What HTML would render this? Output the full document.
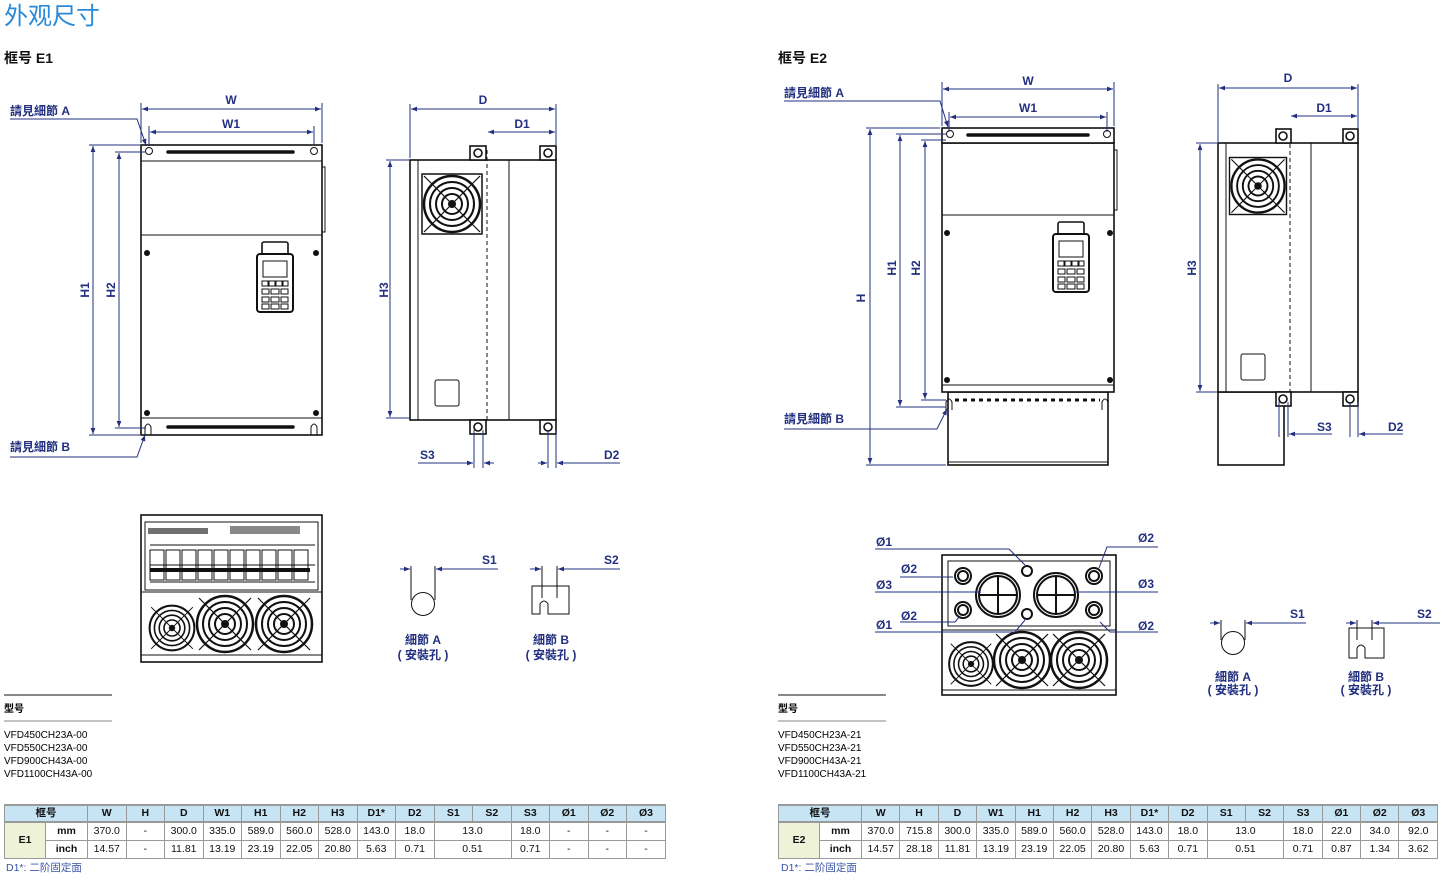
<!DOCTYPE html>
<html><head><meta charset="utf-8"><style>
body{margin:0;background:#fff;width:1447px;height:883px;overflow:hidden;font-family:"Liberation Sans","Noto Sans CJK TC",sans-serif}
svg{position:absolute;left:0;top:0}
.b{fill:#22307f;font-weight:bold;font-size:12px;font-family:"Liberation Sans","Noto Sans CJK TC",sans-serif}
.k{fill:#000;font-size:10px;font-family:"Liberation Sans","Noto Sans CJK TC",sans-serif}
.d{stroke:#22307f;stroke-width:1;fill:none}
.o{stroke:#111;stroke-width:1.6;fill:#fff}
.t{stroke:#111;stroke-width:1;fill:none}
</style></head><body>
<svg width="1447" height="883" viewBox="0 0 1447 883">
<defs>
<marker id="a" viewBox="0 0 10 10" refX="10" refY="5" markerWidth="8" markerHeight="6" orient="auto-start-reverse"><path d="M0,1 L10,5 L0,9z" fill="#22307f"/></marker>
<g id="fan">
<rect x="-30" y="-30" width="60" height="60" fill="#fff" stroke="#111" stroke-width="1.5"/>
<circle r="28" fill="none" stroke="#111" stroke-width="2.5"/><circle r="22" fill="none" stroke="#111" stroke-width="2"/><circle r="16" fill="none" stroke="#111" stroke-width="2"/><circle r="10" fill="none" stroke="#111" stroke-width="2"/><circle r="4" fill="#111"/>
<path d="M-28,-28L28,28M28,-28L-28,28" stroke="#111" stroke-width="1.2"/>
</g>
<g id="fn">
<circle r="28" fill="none" stroke="#111" stroke-width="2.5"/><circle r="22" fill="none" stroke="#111" stroke-width="2"/><circle r="16" fill="none" stroke="#111" stroke-width="2"/><circle r="10" fill="none" stroke="#111" stroke-width="2"/><circle r="4" fill="#111"/>
<path d="M-26,-26L26,26M26,-26L-26,26" stroke="#111" stroke-width="1.2"/>
</g>
<g id="kp">
<rect x="5" y="0" width="26" height="14" rx="2" class="o"/>
<rect x="0" y="12" width="36" height="58" rx="3" fill="#fff" stroke="#111" stroke-width="2"/>
<rect x="6" y="19" width="24" height="16" fill="none" stroke="#111"/>
<g fill="none" stroke="#111"><rect x="5" y="39" width="6" height="5"/><rect x="12" y="39" width="6" height="5"/><rect x="19" y="39" width="6" height="5"/><rect x="26" y="39" width="5" height="5"/>
<rect x="5" y="47" width="7" height="5"/><rect x="14" y="47" width="8" height="5"/><rect x="24" y="47" width="7" height="5"/>
<rect x="5" y="55" width="7" height="5"/><rect x="14" y="55" width="8" height="5"/><rect x="24" y="55" width="7" height="5"/>
<rect x="5" y="62" width="7" height="5"/><rect x="14" y="62" width="8" height="5"/><rect x="24" y="62" width="7" height="5"/></g>
</g>
</defs>

<text x="4" y="24" font-size="24" fill="#2a8ad8" font-family="Liberation Sans,Noto Sans CJK TC,sans-serif">外观尺寸</text>
<text x="4" y="63" font-size="14" font-weight="bold" fill="#111" font-family="Liberation Sans,Noto Sans CJK TC,sans-serif">框号 E1</text>
<text x="778" y="63" font-size="14" font-weight="bold" fill="#111" font-family="Liberation Sans,Noto Sans CJK TC,sans-serif">框号 E2</text>

<!-- E1 front -->
<rect x="141" y="145" width="181" height="290" class="o"/>
<line x1="141" y1="161" x2="322" y2="161" class="t" stroke-width="1.5"/>
<line x1="141" y1="235" x2="322" y2="235" class="t" stroke-width="1.5"/>
<line x1="141" y1="418" x2="322" y2="418" class="t" stroke-width="1.5"/>
<line x1="168" y1="152" x2="293" y2="152" stroke="#111" stroke-width="3.5" stroke-linecap="round"/>
<line x1="168" y1="427" x2="293" y2="427" stroke="#111" stroke-width="3.5" stroke-linecap="round"/>
<circle cx="149" cy="151" r="3.5" fill="#fff" stroke="#111"/><circle cx="314" cy="151" r="3.5" fill="#fff" stroke="#111"/>
<rect x="322" y="167" width="3" height="65" fill="none" stroke="#111"/>
<g fill="#111"><circle cx="147" cy="253" r="3"/><circle cx="316" cy="253" r="3"/><circle cx="147" cy="413" r="3"/><circle cx="316" cy="413" r="3"/></g>
<use href="#kp" x="257" y="242"/>
<path d="M145,435v-8q3,-6 6,0v8M311,435v-8q3,-6 6,0v8" class="t"/>
<line x1="141" y1="103" x2="141" y2="143" class="d"/><line x1="322" y1="103" x2="322" y2="143" class="d"/>
<line x1="142" y1="109" x2="321" y2="109" class="d" marker-start="url(#a)" marker-end="url(#a)"/>
<text x="231" y="104" class="b" text-anchor="middle">W</text>
<line x1="149" y1="126" x2="149" y2="146" class="d"/><line x1="314" y1="126" x2="314" y2="146" class="d"/>
<line x1="150" y1="132" x2="313" y2="132" class="d" marker-start="url(#a)" marker-end="url(#a)"/>
<text x="231" y="128" class="b" text-anchor="middle">W1</text>
<line x1="89" y1="145" x2="140" y2="145" class="d"/><line x1="89" y1="435" x2="140" y2="435" class="d"/>
<line x1="93" y1="146" x2="93" y2="434" class="d" marker-start="url(#a)" marker-end="url(#a)"/>
<line x1="115" y1="152" x2="146" y2="152" class="d"/><line x1="115" y1="428" x2="146" y2="428" class="d"/>
<line x1="119" y1="153" x2="119" y2="427" class="d" marker-start="url(#a)" marker-end="url(#a)"/>
<text transform="translate(89,290) rotate(-90)" class="b" text-anchor="middle">H1</text>
<text transform="translate(115,290) rotate(-90)" class="b" text-anchor="middle">H2</text>
<text x="10" y="115" class="b">請見細節 A</text>
<polyline points="10,119 137,119 146,145" class="d" marker-end="url(#a)"/>
<text x="10" y="451" class="b">請見細節 B</text>
<polyline points="10,457 137,457 145,435" class="d" marker-end="url(#a)"/>

<!-- E1 side -->
<rect x="410" y="160" width="146" height="260" class="o"/>
<line x1="418" y1="160" x2="418" y2="420" class="t"/>
<line x1="509" y1="160" x2="509" y2="420" class="t" stroke-width="1.5"/>
<line x1="487" y1="150" x2="487" y2="420" stroke="#111" stroke-dasharray="4,3"/>
<use href="#fan" x="452" y="204"/>
<rect x="435" y="380" width="24" height="26" rx="2" class="t"/>
<rect x="470" y="146" width="16" height="14" class="o"/><circle cx="478" cy="153" r="4" class="o" stroke-width="1"/>
<rect x="540" y="146" width="16" height="14" class="o"/><circle cx="548" cy="153" r="4" class="o" stroke-width="1"/>
<rect x="470" y="420" width="16" height="14" class="o"/><circle cx="478" cy="427" r="4" class="o" stroke-width="1"/>
<rect x="540" y="420" width="16" height="14" class="o"/><circle cx="548" cy="427" r="4" class="o" stroke-width="1"/>
<line x1="410" y1="104" x2="410" y2="158" class="d"/><line x1="556" y1="104" x2="556" y2="145" class="d"/>
<line x1="411" y1="109" x2="555" y2="109" class="d" marker-start="url(#a)" marker-end="url(#a)"/>
<text x="483" y="104" class="b" text-anchor="middle">D</text>
<line x1="488" y1="132" x2="555" y2="132" class="d" marker-start="url(#a)" marker-end="url(#a)"/>
<text x="522" y="128" class="b" text-anchor="middle">D1</text>
<line x1="386" y1="160" x2="409" y2="160" class="d"/><line x1="386" y1="418" x2="409" y2="418" class="d"/>
<line x1="390" y1="161" x2="390" y2="417" class="d" marker-start="url(#a)" marker-end="url(#a)"/>
<text transform="translate(388,290) rotate(-90)" class="b" text-anchor="middle">H3</text>
<line x1="474" y1="430" x2="474" y2="468" class="d"/><line x1="483" y1="430" x2="483" y2="468" class="d"/>
<line x1="418" y1="463" x2="473" y2="463" class="d" marker-end="url(#a)"/><line x1="494" y1="463" x2="484" y2="463" class="d" marker-end="url(#a)"/>
<text x="420" y="459" class="b">S3</text>
<line x1="548" y1="430" x2="548" y2="468" class="d"/><line x1="556" y1="430" x2="556" y2="468" class="d"/>
<line x1="538" y1="463" x2="547" y2="463" class="d" marker-end="url(#a)"/><line x1="620" y1="463" x2="557" y2="463" class="d" marker-end="url(#a)"/>
<text x="604" y="459" class="b">D2</text>

<!-- E1 bottom view -->
<rect x="141" y="515" width="181" height="147" class="o"/>
<rect x="145" y="522" width="173" height="68" fill="#fff" stroke="#111"/>
<g stroke="#111" fill="none"><path d="M150,545h165M150,565h165M150,582h165"/>
<rect x="150" y="550" width="14" height="30"/><rect x="166" y="550" width="14" height="30"/><rect x="182" y="550" width="14" height="30"/><rect x="198" y="550" width="14" height="30"/><rect x="214" y="550" width="14" height="30"/><rect x="230" y="550" width="14" height="30"/><rect x="246" y="550" width="14" height="30"/><rect x="262" y="550" width="14" height="30"/><rect x="278" y="550" width="14" height="30"/><rect x="294" y="550" width="14" height="30"/></g>
<g fill="#111"><rect x="148" y="528" width="60" height="6" opacity=".6"/><rect x="230" y="526" width="70" height="8" opacity=".5"/><rect x="150" y="568" width="160" height="4"/></g>
<use href="#fn" transform="translate(172,628) scale(0.8)"/>
<use href="#fn" x="225" y="624"/>
<use href="#fn" x="284" y="624"/>
<line x1="141" y1="592" x2="322" y2="592" class="t"/>
<line x1="141" y1="655" x2="322" y2="655" class="t"/>

<!-- details E1 -->
<circle cx="423" cy="604" r="11.5" fill="#fff" stroke="#111"/>
<line x1="411" y1="566" x2="411" y2="600" class="t"/><line x1="435" y1="566" x2="435" y2="600" class="t"/>
<line x1="400" y1="569" x2="410" y2="569" class="d" marker-end="url(#a)"/><line x1="498" y1="569" x2="436" y2="569" class="d" marker-end="url(#a)"/>
<text x="482" y="564" class="b">S1</text>
<text x="423" y="644" class="b" text-anchor="middle" font-weight="normal">細節 A</text>
<text x="423" y="659" class="b" text-anchor="middle" font-weight="normal">( 安裝孔 )</text>
<path d="M532,586v28h8v-10q4,-6 8,0v10h21v-28z" fill="#fff" stroke="#111"/>
<line x1="542" y1="566" x2="542" y2="598" class="t"/><line x1="557" y1="566" x2="557" y2="598" class="t"/>
<line x1="530" y1="569" x2="541" y2="569" class="d" marker-end="url(#a)"/><line x1="620" y1="569" x2="558" y2="569" class="d" marker-end="url(#a)"/>
<text x="604" y="564" class="b">S2</text>
<text x="551" y="644" class="b" text-anchor="middle" font-weight="normal">細節 B</text>
<text x="551" y="659" class="b" text-anchor="middle" font-weight="normal">( 安裝孔 )</text>

<!-- E2 front -->
<rect x="948" y="392" width="160" height="73" class="o"/>
<line x1="948" y1="462" x2="1108" y2="462" class="t"/>
<rect x="942" y="143" width="172" height="249" class="o"/>
<rect x="942" y="128" width="172" height="15" class="o"/>
<line x1="942" y1="215" x2="1114" y2="215" class="t" stroke-width="1.5"/>
<line x1="942" y1="385" x2="1114" y2="385" class="t"/>
<line x1="968" y1="135" x2="1088" y2="135" stroke="#111" stroke-width="3.5" stroke-linecap="round"/>
<line x1="955" y1="400" x2="1100" y2="400" stroke="#111" stroke-width="3" stroke-dasharray="4,4"/>
<circle cx="950" cy="134" r="3.5" fill="#fff" stroke="#111"/><circle cx="1107" cy="134" r="3.5" fill="#fff" stroke="#111"/>
<rect x="1114" y="150" width="3" height="60" fill="none" stroke="#111"/>
<g fill="#111"><circle cx="947" cy="233" r="3"/><circle cx="1110" cy="233" r="3"/><circle cx="947" cy="380" r="3"/><circle cx="1110" cy="380" r="3"/></g>
<use href="#kp" x="1053" y="222"/>
<path d="M946,410v-8q3,-6 6,0v8M1102,410v-8q3,-6 6,0v8" class="t"/>
<line x1="942" y1="82" x2="942" y2="126" class="d"/><line x1="1114" y1="82" x2="1114" y2="126" class="d"/>
<line x1="943" y1="89" x2="1113" y2="89" class="d" marker-start="url(#a)" marker-end="url(#a)"/>
<text x="1028" y="85" class="b" text-anchor="middle">W</text>
<line x1="949" y1="112" x2="949" y2="132" class="d"/><line x1="1107" y1="112" x2="1107" y2="132" class="d"/>
<line x1="950" y1="117" x2="1106" y2="117" class="d" marker-start="url(#a)" marker-end="url(#a)"/>
<text x="1028" y="112" class="b" text-anchor="middle">W1</text>
<line x1="866" y1="128" x2="940" y2="128" class="d"/><line x1="866" y1="465" x2="946" y2="465" class="d"/>
<line x1="870" y1="129" x2="870" y2="464" class="d" marker-start="url(#a)" marker-end="url(#a)"/>
<text transform="translate(865,298) rotate(-90)" class="b" text-anchor="middle">H</text>
<line x1="896" y1="134" x2="946" y2="134" class="d"/><line x1="896" y1="407" x2="946" y2="407" class="d"/>
<line x1="900" y1="135" x2="900" y2="406" class="d" marker-start="url(#a)" marker-end="url(#a)"/>
<line x1="921" y1="140" x2="946" y2="140" class="d"/><line x1="921" y1="400" x2="946" y2="400" class="d"/>
<line x1="925" y1="141" x2="925" y2="399" class="d" marker-start="url(#a)" marker-end="url(#a)"/>
<text transform="translate(896,268) rotate(-90)" class="b" text-anchor="middle">H1</text>
<text transform="translate(920,268) rotate(-90)" class="b" text-anchor="middle">H2</text>
<text x="784" y="97" class="b">請見細節 A</text>
<polyline points="784,101 940,101 948,127" class="d" marker-end="url(#a)"/>
<text x="784" y="423" class="b">請見細節 B</text>
<polyline points="784,429 937,429 947,409" class="d" marker-end="url(#a)"/>

<!-- E2 side -->
<rect x="1218" y="392" width="66" height="73" class="o"/>
<rect x="1218" y="143" width="140" height="249" class="o"/>
<line x1="1226" y1="143" x2="1226" y2="392" class="t"/>
<line x1="1311" y1="143" x2="1311" y2="392" class="t" stroke-width="1.5"/>
<line x1="1290" y1="130" x2="1290" y2="392" stroke="#111" stroke-dasharray="4,3"/>
<use href="#fan" transform="translate(1258,186) scale(0.95)"/>
<rect x="1241" y="354" width="24" height="26" rx="2" class="t"/>
<rect x="1276" y="129" width="15" height="14" class="o"/><circle cx="1283" cy="136" r="4" class="o" stroke-width="1"/>
<rect x="1343" y="129" width="15" height="14" class="o"/><circle cx="1350" cy="136" r="4" class="o" stroke-width="1"/>
<rect x="1276" y="392" width="15" height="14" class="o"/><circle cx="1283" cy="399" r="4" class="o" stroke-width="1"/>
<rect x="1343" y="392" width="15" height="14" class="o"/><circle cx="1350" cy="399" r="4" class="o" stroke-width="1"/>
<line x1="1218" y1="84" x2="1218" y2="142" class="d"/><line x1="1358" y1="84" x2="1358" y2="128" class="d"/>
<line x1="1219" y1="88" x2="1357" y2="88" class="d" marker-start="url(#a)" marker-end="url(#a)"/>
<text x="1288" y="82" class="b" text-anchor="middle">D</text>
<line x1="1291" y1="116" x2="1357" y2="116" class="d" marker-start="url(#a)" marker-end="url(#a)"/>
<text x="1324" y="112" class="b" text-anchor="middle">D1</text>
<line x1="1196" y1="143" x2="1217" y2="143" class="d"/><line x1="1196" y1="392" x2="1217" y2="392" class="d"/>
<line x1="1200" y1="144" x2="1200" y2="391" class="d" marker-start="url(#a)" marker-end="url(#a)"/>
<text transform="translate(1196,268) rotate(-90)" class="b" text-anchor="middle">H3</text>
<line x1="1279" y1="402" x2="1279" y2="437" class="d"/><line x1="1288" y1="402" x2="1288" y2="437" class="d"/>
<line x1="1332" y1="434" x2="1289" y2="434" class="d" marker-end="url(#a)"/>
<text x="1317" y="431" class="b">S3</text>
<line x1="1350" y1="402" x2="1350" y2="437" class="d"/><line x1="1358" y1="402" x2="1358" y2="437" class="d"/>
<line x1="1403" y1="434" x2="1359" y2="434" class="d" marker-end="url(#a)"/>
<text x="1388" y="431" class="b">D2</text>

<!-- E2 bottom view -->
<rect x="942" y="555" width="174" height="140" class="o"/>
<rect x="948" y="561" width="162" height="65" fill="#fff" stroke="#111"/>
<line x1="942" y1="630" x2="1116" y2="630" class="t"/>
<g fill="none" stroke="#111" stroke-width="2">
<circle cx="998" cy="595" r="22"/><circle cx="998" cy="595" r="19"/><path d="M998,576v38M979,595h38"/>
<circle cx="1056" cy="595" r="22"/><circle cx="1056" cy="595" r="19"/><path d="M1056,576v38M1037,595h38"/>
<circle cx="963" cy="576" r="8"/><circle cx="963" cy="576" r="5"/>
<circle cx="963" cy="610" r="8"/><circle cx="963" cy="610" r="5"/>
<circle cx="1094" cy="576" r="8"/><circle cx="1094" cy="576" r="5"/>
<circle cx="1094" cy="610" r="8"/><circle cx="1094" cy="610" r="5"/>
<circle cx="1027" cy="571" r="5"/><circle cx="1027" cy="614" r="5"/></g>
<use href="#fn" transform="translate(971,664) scale(0.78)"/>
<use href="#fn" x="1022" y="660"/>
<use href="#fn" x="1079" y="660"/>
<line x1="942" y1="690" x2="1116" y2="690" class="t"/>
<g class="d">
<polyline points="875,549 1009,549 1025,565"/><polyline points="900,577 953,577"/><polyline points="875,592 981,592"/><polyline points="900,622 955,622 960,616"/><polyline points="875,632 1015,632 1025,620"/>
<polyline points="1158,547 1107,547 1099,568"/><polyline points="1158,592 1075,592"/><polyline points="1158,632 1110,632 1100,622"/></g>
<text x="876" y="546" class="b">Ø1</text><text x="901" y="573" class="b">Ø2</text><text x="876" y="589" class="b">Ø3</text><text x="901" y="620" class="b">Ø2</text><text x="876" y="629" class="b">Ø1</text>
<text x="1138" y="542" class="b">Ø2</text><text x="1138" y="588" class="b">Ø3</text><text x="1138" y="630" class="b">Ø2</text>

<!-- details E2 -->
<circle cx="1233" cy="643" r="11.5" fill="#fff" stroke="#111"/>
<line x1="1221" y1="620" x2="1221" y2="640" class="t"/><line x1="1245" y1="620" x2="1245" y2="640" class="t"/>
<line x1="1210" y1="623" x2="1220" y2="623" class="d" marker-end="url(#a)"/><line x1="1306" y1="623" x2="1246" y2="623" class="d" marker-end="url(#a)"/>
<text x="1290" y="618" class="b">S1</text>
<text x="1233" y="681" class="b" text-anchor="middle" font-weight="normal">細節 A</text>
<text x="1233" y="694" class="b" text-anchor="middle" font-weight="normal">( 安裝孔 )</text>
<path d="M1349,628v30h8v-10q4,-6 8,0v10h19v-30z" fill="#fff" stroke="#111"/>
<line x1="1357" y1="620" x2="1357" y2="640" class="t"/><line x1="1372" y1="620" x2="1372" y2="640" class="t"/>
<line x1="1346" y1="623" x2="1356" y2="623" class="d" marker-end="url(#a)"/><line x1="1440" y1="623" x2="1373" y2="623" class="d" marker-end="url(#a)"/>
<text x="1417" y="618" class="b">S2</text>
<text x="1366" y="681" class="b" text-anchor="middle" font-weight="normal">細節 B</text>
<text x="1366" y="694" class="b" text-anchor="middle" font-weight="normal">( 安裝孔 )</text>

<!-- model lists -->
<line x1="4" y1="695" x2="112" y2="695" stroke="#111"/>
<text x="4" y="712" class="k" font-weight="bold">型号</text>
<line x1="4" y1="721" x2="112" y2="721" stroke="#111" stroke-width=".6"/>
<text x="4" y="738" class="k">VFD450CH23A-00</text><text x="4" y="751" class="k">VFD550CH23A-00</text><text x="4" y="764" class="k">VFD900CH43A-00</text><text x="4" y="777" class="k">VFD1100CH43A-00</text>
<line x1="778" y1="695" x2="886" y2="695" stroke="#111"/>
<text x="778" y="712" class="k" font-weight="bold">型号</text>
<line x1="778" y1="721" x2="886" y2="721" stroke="#111" stroke-width=".6"/>
<text x="778" y="738" class="k">VFD450CH23A-21</text><text x="778" y="751" class="k">VFD550CH23A-21</text><text x="778" y="764" class="k">VFD900CH43A-21</text><text x="778" y="777" class="k">VFD1100CH43A-21</text>
</svg>

<style>
table{position:absolute;border-collapse:collapse;font-size:10.5px;font-family:"Liberation Sans","Noto Sans CJK TC",sans-serif;table-layout:fixed}
td{border:1px solid #9a9a9a;border-top:none;border-bottom:1px solid #9a9a9a;height:17px;padding:0;text-align:center;color:#111;line-height:17px}
tr.h td{background:#c7e4f5;font-weight:bold;border-top:2px solid #999;border-bottom:2px solid #999;height:15px;line-height:15px}
td.e{background:#eef3d8;font-weight:bold}
td.u{font-weight:bold}
.note{position:absolute;font-size:10.5px;color:#3a55a8;font-family:"Liberation Sans","Noto Sans CJK TC",sans-serif}
</style>
<table style="left:4px;top:804px;width:662px">
<colgroup><col style="width:41px"><col style="width:42px"><col span="14" style="width:38.5px"></colgroup>
<tr class="h"><td colspan="2">框号</td><td>W</td><td>H</td><td>D</td><td>W1</td><td>H1</td><td>H2</td><td>H3</td><td>D1*</td><td>D2</td><td>S1</td><td>S2</td><td>S3</td><td>Ø1</td><td>Ø2</td><td>Ø3</td></tr>
<tr><td class="e" rowspan="2">E1</td><td class="u">mm</td><td>370.0</td><td>-</td><td>300.0</td><td>335.0</td><td>589.0</td><td>560.0</td><td>528.0</td><td>143.0</td><td>18.0</td><td colspan="2">13.0</td><td>18.0</td><td>-</td><td>-</td><td>-</td></tr>
<tr><td class="u">inch</td><td>14.57</td><td>-</td><td>11.81</td><td>13.19</td><td>23.19</td><td>22.05</td><td>20.80</td><td>5.63</td><td>0.71</td><td colspan="2">0.51</td><td>0.71</td><td>-</td><td>-</td><td>-</td></tr>
</table>
<div class="note" style="left:6px;top:860px">D1*: 二阶固定面</div>
<table style="left:778px;top:804px;width:660px">
<colgroup><col style="width:41px"><col style="width:42px"><col span="14" style="width:38.4px"></colgroup>
<tr class="h"><td colspan="2">框号</td><td>W</td><td>H</td><td>D</td><td>W1</td><td>H1</td><td>H2</td><td>H3</td><td>D1*</td><td>D2</td><td>S1</td><td>S2</td><td>S3</td><td>Ø1</td><td>Ø2</td><td>Ø3</td></tr>
<tr><td class="e" rowspan="2">E2</td><td class="u">mm</td><td>370.0</td><td>715.8</td><td>300.0</td><td>335.0</td><td>589.0</td><td>560.0</td><td>528.0</td><td>143.0</td><td>18.0</td><td colspan="2">13.0</td><td>18.0</td><td>22.0</td><td>34.0</td><td>92.0</td></tr>
<tr><td class="u">inch</td><td>14.57</td><td>28.18</td><td>11.81</td><td>13.19</td><td>23.19</td><td>22.05</td><td>20.80</td><td>5.63</td><td>0.71</td><td colspan="2">0.51</td><td>0.71</td><td>0.87</td><td>1.34</td><td>3.62</td></tr>
</table>
<div class="note" style="left:781px;top:860px">D1*: 二阶固定面</div>
</body></html>
